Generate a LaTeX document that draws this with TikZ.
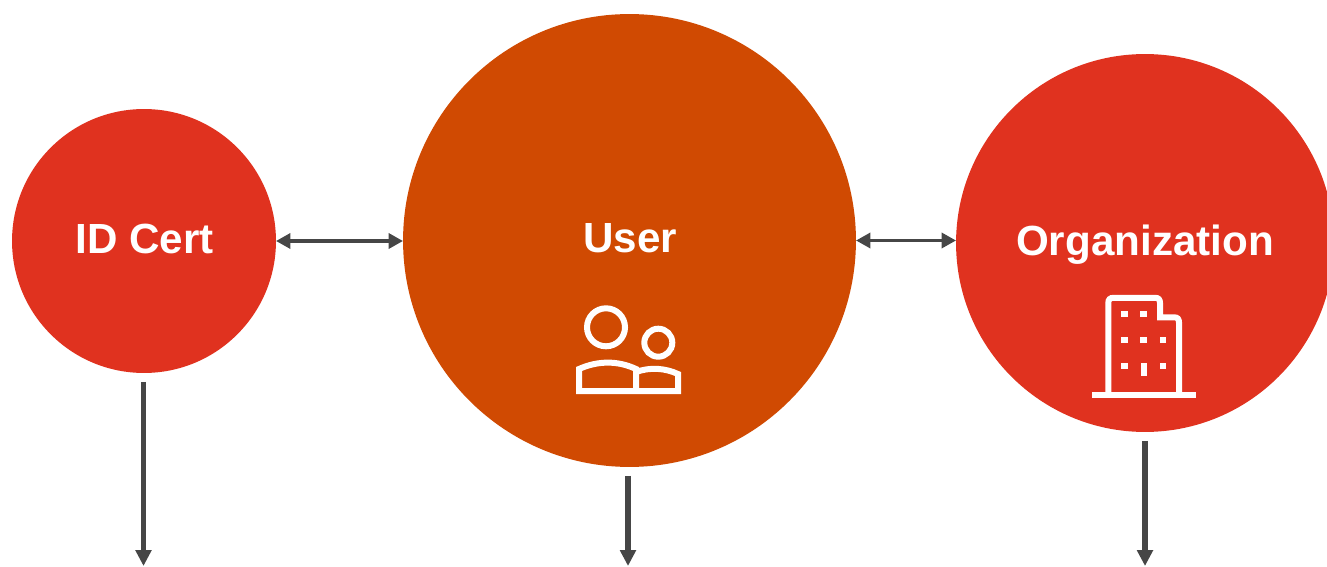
\documentclass[tikz,border=0pt]{standalone}
\usepackage{fontspec}
\setmainfont{Liberation Sans}
\usetikzlibrary{arrows.meta}
\xdefinecolor{certred}{RGB}{224, 50, 31}
\xdefinecolor{userorange}{RGB}{208, 74, 2}
\xdefinecolor{linkgray}{RGB}{70, 70, 70}
\tikzset{
    bubble/.style={circle, inner sep=0pt, outer sep=0pt},
    bubbletext/.style={inner sep=0pt, text=white, font=\fontsize{24}{28}\selectfont\bfseries},
    linkarrow/.style={{Triangle[length=0.29cm,width=0.3cm]}-{Triangle[length=0.29cm,width=0.3cm]}, linkgray, line width=0.075cm},
    downarrow/.style={-{Triangle[length=0.32cm,width=0.31cm]}, linkgray, line width=0.11cm, shorten <=0.18cm},
    iconline/.style={draw=white, line width=0.12cm}
}
\begin{document}
\begin{tikzpicture}[x=0.02cm, y=-0.02cm]
            \useasboundingbox (0, 0) rectangle (1327, 567);

            % Draw the three circles
            \node[bubble, fill=certred, minimum size=5.28cm] (IDCert) at (144, 241) {};
            \node[bubble, fill=userorange, minimum size=9.06cm] (User) at (629.5, 240.5) {};
            \node[bubble, fill=certred, minimum size=7.56cm] (Organization) at (1145, 243) {};

            % Labels inside the circles
            \node[bubbletext] (IDCert-label) at (144.5, 239) {ID Cert};
            \node[bubbletext] (User-label) at (630, 238.5) {User};
            \node[bubbletext] (Organization-label) at (1145, 245) {Organization};

            % Arrows between the circles
            \draw[linkarrow] (IDCert.east) -- (IDCert.east -| User.west);
            \draw[linkarrow] (User.east) -- (User.east -| Organization.west);

            % Arrows going down
            \coordinate (IDCert-end) at (143.5, 566);
            \coordinate (User-end) at (628, 566);
            \coordinate (Organization-end) at (1145, 566);
            \draw[downarrow] (IDCert.south -| IDCert-end) -- (IDCert-end);
            \draw[downarrow] (User.south -| User-end) -- (User-end);
            \draw[downarrow] (Organization.south -| Organization-end) -- (Organization-end);

            % People icon
            \draw[iconline] (606, 327.3) circle [radius=19];
            \draw[iconline] (658.3, 342.7) circle [radius=14];
            \draw[iconline, line join=miter] (579, 391) -- (579, 369) .. controls (598, 360.5) and (618, 360.5) .. (636, 369) -- (636, 391);
            \draw[iconline, line join=miter] (636, 372) .. controls (650, 367) and (665, 368) .. (678, 374) -- (678, 391) -- (576, 391);

            % Building icon
            \draw[iconline] (1108.3, 395) -- (1108.3, 303) .. controls (1108.3, 299.5) and (1110, 297.8) .. (1113.5, 297.8) -- (1155, 297.8) .. controls (1158.5, 297.8) and (1160, 299.5) .. (1160, 303) -- (1160, 317.3) -- (1174, 317.3) .. controls (1177.5, 317.3) and (1179, 319) .. (1179, 322.5) -- (1179, 395);
            \draw[iconline] (1092.3, 395) -- (1195.7, 395);
            \foreach \x/\y in {1124.3/314, 1143.7/314, 1124.3/340, 1143.7/340, 1163/340, 1124.3/366, 1163/366} {
                    \fill[white] (\x-3.4, \y-3.4) rectangle (\x+3.4, \y+3.4);
                }
            \fill[white] (1140.5, 363) rectangle (1146.9, 375.7);

        \end{tikzpicture}
\end{document}
